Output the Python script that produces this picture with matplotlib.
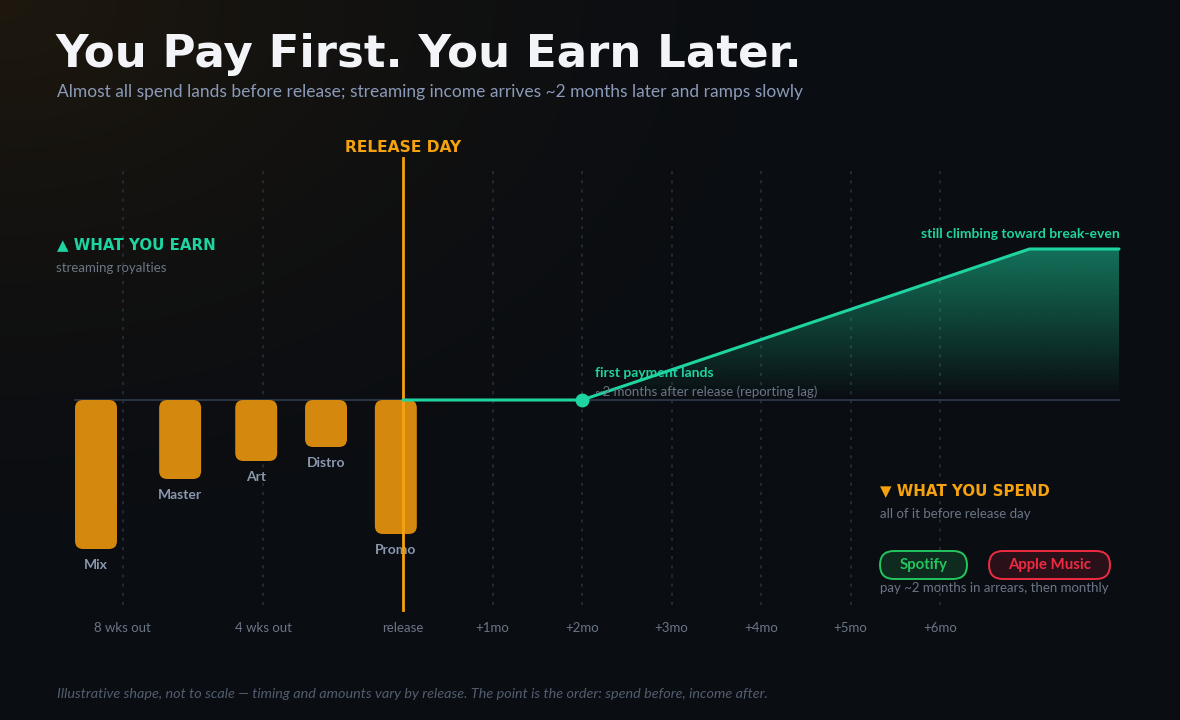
import numpy as np
import matplotlib.pyplot as plt
from matplotlib.patches import FancyBboxPatch

# spend items (x position in timeline units, depth)
spend_labels = ["Mix", "Master", "Art", "Distro", "Promo"]
spend_x = [-3.43, -2.49, -1.64, -0.86, -0.08]
spend_vals = [-149, -79, -61, -47, -134]

# streaming income curve
earn_x = [0, 2, 7, 8]
earn_y = [0, 0, 151, 151]

tick_labels = ["8 wks out", "4 wks out", "release", "+1mo", "+2mo", "+3mo", "+4mo", "+5mo", "+6mo"]
tick_pos = [-3.13, -1.56, 0, 1, 2, 3, 4, 5, 6]

BG = "#0a0d12"
ORANGE = "#f5a20f"
BAR = "#d4880d"
TEAL = "#1ed4a0"
GREY = "#6b7585"
LABEL = "#8a98ae"
BODY = "Lato"
HEAD = "DejaVu Sans"

W, H = 1180, 720
fig = plt.figure(figsize=(W / 100, H / 100), dpi=100)
fig.patch.set_facecolor(BG)

# background with warm glow top-left
bg = fig.add_axes([0, 0, 1, 1])
yy, xx = np.mgrid[0:H:4, 0:W:4]
d = np.sqrt((xx / W) ** 2 + (yy / H * 0.9) ** 2)
glow = np.clip(1 - d / 0.75, 0, 1) ** 1.6
base = np.array([10, 13, 18]) / 255
warm = np.array([30, 24, 14]) / 255
img = base[None, None, :] + (warm - base)[None, None, :] * glow[..., None]
bg.imshow(img, extent=[0, W, H, 0], aspect="auto", interpolation="bilinear")
bg.set_xlim(0, W)
bg.set_ylim(H, 0)
bg.axis("off")

# main data axes: 1 x-unit = 89.5 px, release at 403 px; 1 y-unit = 1 px, zero at 400 px
ax = fig.add_axes([0, 0, 1, 1])
ax.patch.set_alpha(0)
ux = 89.5
ax.set_xlim(-403 / ux, (W - 403) / ux)
ax.set_ylim(-(H - 400), 400)
ax.axis("off")

grid_x = [p for p in tick_pos if p != 0]
ax.vlines(grid_x, -205, 230, colors="#29323f", linewidth=1.1, linestyles=(0, (2, 4)), zorder=1)
ax.plot([-3.665, 8.0], [0, 0], color="#2a3545", lw=1.4, zorder=2)

bw = 0.469
for x, v in zip(spend_x, spend_vals):
    r = 0.09
    p = FancyBboxPatch((x - bw / 2 + r, v + r * ux), bw - 2 * r, -v - 2 * r * ux,
                       boxstyle="round,pad=%f,rounding_size=%f" % (r, r),
                       mutation_aspect=ux, facecolor=BAR, edgecolor="none", zorder=3)
    ax.add_patch(p)
for x, v, lab in zip(spend_x, spend_vals, spend_labels):
    ax.text(x, v - 16, lab, ha="center", va="center", color=LABEL, fontsize=10,
            fontweight="bold", family=BODY, zorder=4)

# release day line
ax.plot([0, 0], [-210, 242], color=ORANGE, lw=2, zorder=5)

# earnings gradient fill
poly = ax.fill_between(earn_x, earn_y, 0, color="none", zorder=2)
grad = np.zeros((100, 2, 4))
grad[..., :3] = np.array([30, 212, 160]) / 255
grad[..., 3] = np.linspace(0.5, 0.0, 100)[:, None]
im = ax.imshow(grad, extent=[0, 8, 0, max(earn_y)], aspect="auto", origin="upper", zorder=2,
               interpolation="bilinear")
im.set_clip_path(poly.get_paths()[0], transform=ax.transData)
ax.set_xlim(-403 / ux, (W - 403) / ux)
ax.set_ylim(-(H - 400), 400)

ax.plot(earn_x, earn_y, color=TEAL, lw=2.2, zorder=6, solid_capstyle="round")
ax.plot([earn_x[1]], [earn_y[1]], "o", color=TEAL, ms=9, zorder=7)

for x, lab in zip(tick_pos, tick_labels):
    ax.text(x, -228, lab, ha="center", va="center", color=GREY, fontsize=9.5, family=BODY)

# annotation overlay in pixel coordinates
ov = fig.add_axes([0, 0, 1, 1])
ov.patch.set_alpha(0)
ov.set_xlim(0, W)
ov.set_ylim(H, 0)
ov.axis("off")

ov.text(55, 54, "You Pay First. You Earn Later.", color="#f2f4f8", fontsize=32.5,
        fontweight="heavy", family=HEAD, va="center")
ov.text(57, 92, "Almost all spend lands before release; streaming income arrives ~2 months later and ramps slowly",
        color="#8b9ab8", fontsize=12.5, family=BODY, va="center")

ov.text(403, 147, "RELEASE DAY", color=ORANGE, fontsize=11.2, fontweight="bold", family=HEAD,
        ha="center", va="center")
ov.text(57, 245, "▲ WHAT YOU EARN", color=TEAL, fontsize=10.8, fontweight="bold", family=HEAD, va="center")
ov.text(56, 268, "streaming royalties", color=GREY, fontsize=9.5, family=BODY, va="center")

ov.text(595, 373, "first payment lands", color=TEAL, fontsize=10, fontweight="bold", family=BODY, va="center")
ov.text(595, 392, "~2 months after release (reporting lag)", color=GREY, fontsize=9.5, family=BODY, va="center")
ov.text(1120, 234, "still climbing toward break-even", color=TEAL, fontsize=10, fontweight="bold",
        family=BODY, ha="right", va="center")

ov.text(880, 491, "▼ WHAT YOU SPEND", color=ORANGE, fontsize=10.8, fontweight="bold", family=HEAD, va="center")
ov.text(880, 514, "all of it before release day", color=GREY, fontsize=9.5, family=BODY, va="center")

pills = [("Spotify", 880, 967, "#22c55e", "#0f2a1e"), ("Apple Music", 989, 1110, "#ef2b43", "#2a1119")]
for name, x0, x1, ec, fc in pills:
    ov.add_patch(FancyBboxPatch((x0, 551), x1 - x0, 28, boxstyle="round,pad=0,rounding_size=14",
                                facecolor=fc, edgecolor=ec, lw=1.4, zorder=3))
    ov.text((x0 + x1) / 2, 565, name, color=ec, fontsize=10.8, fontweight="bold", family=BODY,
            ha="center", va="center", zorder=4)
ov.text(880, 588, "pay ~2 months in arrears, then monthly", color=GREY, fontsize=9.5, family=BODY, va="center")

ov.text(57, 694, "Illustrative shape, not to scale \u2014 timing and amounts vary by release. "
        "The point is the order: spend before, income after.",
        color="#535d6e", fontsize=10.4, style="italic", family=BODY, va="center")

fig.savefig("out.png", dpi=100, facecolor=BG)
